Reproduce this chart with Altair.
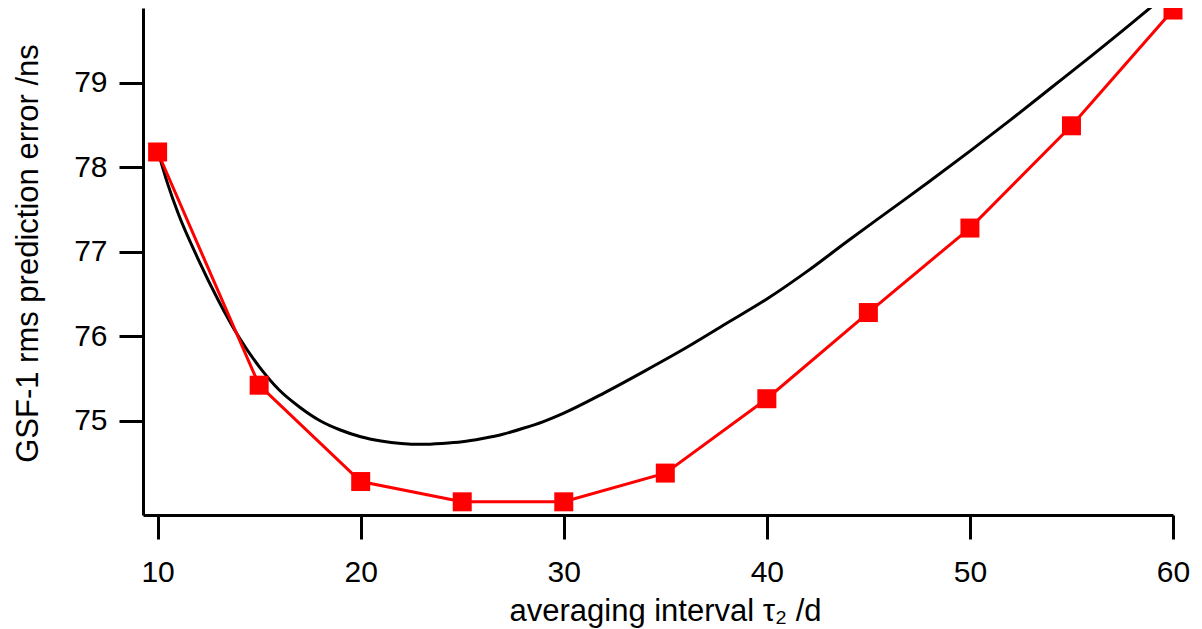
import altair as alt
import pandas as pd

# Red series (squares joined by straight segments)
tau_red = [10, 15, 20, 25, 30, 35, 40, 45, 50, 55, 60]
err_red = [78.18, 75.42, 74.28, 74.04, 74.04, 74.38, 75.26, 76.28, 77.28, 78.49, 79.86]

# Black smooth curve
tau_black = [10, 10.5, 11, 12, 13, 14, 15, 16, 17, 18, 19, 20, 21, 22, 23, 24, 25,
             26, 27, 28, 29, 30, 32, 34, 36, 38, 40, 42, 44, 46, 48, 50, 52, 54,
             56, 58, 59]
err_black = [78.20, 77.80, 77.46, 76.91, 76.42, 75.99, 75.64, 75.36, 75.16, 75.00,
             74.89, 74.81, 74.76, 74.73, 74.72, 74.73, 74.75, 74.79, 74.84, 74.91,
             74.99, 75.09, 75.33, 75.59, 75.86, 76.15, 76.44, 76.77, 77.13, 77.48,
             77.83, 78.19, 78.56, 78.94, 79.32, 79.71, 79.91]

x_ticks = [10, 20, 30, 40, 50, 60]
y_ticks = [75, 76, 77, 78, 79]

red_df = pd.DataFrame({"tau": tau_red, "err": err_red})
black_df = pd.DataFrame({"tau": tau_black, "err": err_black})

FONT = "Liberation Sans"

x_scale = alt.Scale(domain=[9.28, 60], nice=False, zero=False)
y_scale = alt.Scale(domain=[73.884, 79.884], nice=False, zero=False)

x_axis = alt.Axis(
    values=x_ticks, tickSize=24, tickWidth=3, domainWidth=3, labelPadding=18,
    labelFlush=False, labelOverlap=False, format="d",
    title="averaging interval τ₂ /d", titleX=522, titleY=105,
    titleBaseline="alphabetic", titleAlign="center", grid=False,
)
y_axis = alt.Axis(
    values=y_ticks, tickSize=24, tickWidth=3, domainWidth=3, labelPadding=12,
    labelFlush=False, labelOverlap=False, format="d",
    title="GSF-1 rms prediction error /ns", titleAngle=270, titleX=-106, titleY=245,
    titleBaseline="alphabetic", titleAlign="center", grid=False,
)

black = alt.Chart(black_df).mark_line(
    color="#000000", strokeWidth=3, interpolate="monotone", clip=False
).encode(
    x=alt.X("tau:Q", scale=x_scale, axis=x_axis),
    y=alt.Y("err:Q", scale=y_scale, axis=y_axis),
)

red_line = alt.Chart(red_df).mark_line(
    color="#ff0000", strokeWidth=3, clip=False
).encode(x="tau:Q", y="err:Q")

red_pts = alt.Chart(red_df).mark_point(
    shape="square", filled=True, size=361, color="#ff0000", opacity=1, clip=False
).encode(x="tau:Q", y="err:Q")

chart = alt.layer(black, red_line, red_pts).properties(
    width=1030, height=507,
    autosize=alt.AutoSizeParams(type="none"),
    padding={"left": 135, "top": 0, "right": 20, "bottom": 114},
).configure_view(stroke=None).configure_axis(
    labelFont=FONT, labelFontSize=30, labelColor="#000000",
    titleFont=FONT, titleFontSize=31, titleFontWeight="normal", titleColor="#000000",
    tickColor="#000000", domainColor="#000000",
)

chart.save("out.html", embed_options={"renderer": "svg", "actions": False})
